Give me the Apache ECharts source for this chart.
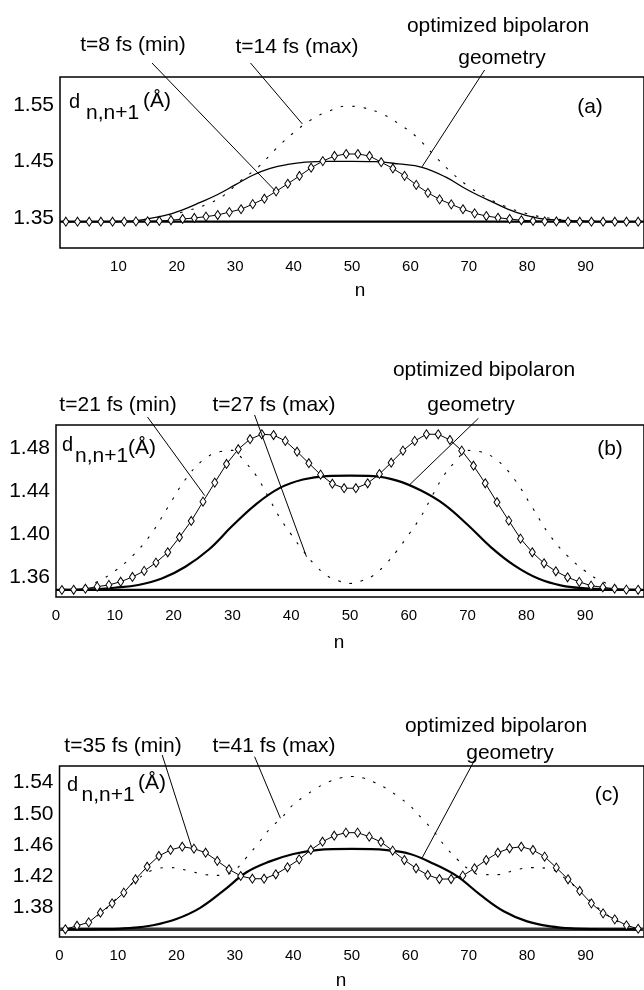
<!DOCTYPE html>
<html><head><meta charset="utf-8">
<script src="https://cdn.jsdelivr.net/npm/echarts@6/dist/echarts.min.js"></script>
<style>html,body{margin:0;padding:0;background:#fff}#c{width:644px;height:990px}</style>
</head><body><div id="c"></div>
<script>
// ---------- data ----------
const nOdd = [1,3,5,7,9,11,13,15,17,19,21,23,25,27,29,31,33,35,37,39,41,43,45,47,49,51,53,55,57,59,61,63,65,67,69,71,73,75,77,79,81,83,85,87,89,91,93,95,97,99];

// panel (a)
const aMin = [1.344,1.344,1.344,1.344,1.344,1.3442,1.3445,1.3448,1.3453,1.3465,1.3488,1.3506,1.353,1.3558,1.361,1.366,1.375,1.3846,1.3976,1.411,1.4247,1.4393,1.451,1.460,1.4635,1.4635,1.460,1.449,1.438,1.425,1.409,1.395,1.3835,1.3747,1.366,1.3588,1.354,1.351,1.3488,1.3465,1.3453,1.3447,1.3444,1.3442,1.344,1.344,1.344,1.344,1.344,1.344];
const aGeoN = [1,8,12,15,18,21,24,27,30,33,36,39,42,46,50,54,58,62,66,70,74,78,82,86,90,95,99];
const aGeo = [1.344,1.3443,1.345,1.349,1.355,1.365,1.378,1.392,1.409,1.426,1.438,1.445,1.449,1.4505,1.4505,1.450,1.446,1.440,1.423,1.399,1.379,1.361,1.350,1.3465,1.345,1.344,1.344];
const aDotN = [1,6,10,14,18,22,25,28,31,34,37,40,43,46,49,52,55,58,61,64,67,70,73,76,80,84,88,92,99];
const aDot = [1.344,1.344,1.345,1.348,1.354,1.364,1.374,1.390,1.417,1.441,1.473,1.501,1.524,1.539,1.548,1.545,1.535,1.517,1.494,1.462,1.431,1.406,1.387,1.372,1.358,1.350,1.346,1.3445,1.344];
const aBase = 1.344;

// panel (b)
const bMin = [1.3484,1.3486,1.3496,1.3515,1.3531,1.3561,1.3605,1.3661,1.3738,1.3834,1.3974,1.4125,1.4304,1.4481,1.4654,1.4791,1.4884,1.493,1.4923,1.4868,1.4768,1.4661,1.4555,1.4471,1.4429,1.4429,1.4475,1.4561,1.4666,1.4778,1.4868,1.493,1.493,1.4877,1.4778,1.4638,1.4475,1.4299,1.4128,1.3961,1.3834,1.3732,1.3658,1.3602,1.3559,1.3524,1.3509,1.3496,1.3487,1.3486];
const bGeoN = [1,6,10,14,18,22,26,30,34,38,42,46,50,54,58,62,66,70,74,78,82,86,90,94,99];
const bGeo = [1.3486,1.349,1.3505,1.353,1.359,1.370,1.386,1.408,1.428,1.443,1.451,1.4542,1.4546,1.4542,1.450,1.441,1.428,1.409,1.388,1.371,1.359,1.3525,1.350,1.349,1.3486];
const bDotN = [1,4,7,10,13,16,19,22,25,28,30,32,34,36,38,40,42,44,46,48,50,52,54,56,58,60,62,64,66,68,70,72,75,78,81,84,87,90,93,96,99];
const bDot = [1.3486,1.351,1.356,1.366,1.380,1.399,1.425,1.451,1.469,1.477,1.478,1.468,1.455,1.436,1.416,1.400,1.385,1.372,1.362,1.357,1.3545,1.357,1.362,1.372,1.385,1.400,1.416,1.436,1.455,1.468,1.478,1.477,1.469,1.451,1.425,1.399,1.380,1.366,1.356,1.351,1.3486];
const bBase = 1.3486;

// panel (c)
const cMin = [1.3518,1.3564,1.3607,1.3731,1.3851,1.3988,1.416,1.4321,1.4459,1.4536,1.4578,1.4553,1.4501,1.4395,1.4288,1.4202,1.4167,1.4167,1.4224,1.4314,1.4416,1.4536,1.4642,1.4719,1.4758,1.4758,1.4707,1.4639,1.4527,1.4407,1.4301,1.4215,1.4163,1.4163,1.4206,1.4301,1.4407,1.4501,1.4558,1.4578,1.4536,1.445,1.4309,1.416,1.401,1.3851,1.3723,1.3646,1.3569,1.3525];
const cGeoN = [1,8,12,16,20,24,28,32,36,40,44,50,56,60,64,68,72,76,80,84,88,92,99];
const cGeo = [1.3517,1.352,1.3533,1.357,1.365,1.379,1.401,1.425,1.439,1.4485,1.4535,1.4549,1.4535,1.4485,1.436,1.420,1.396,1.375,1.362,1.3555,1.3527,1.352,1.3517];
const cDotN = [1,4,7,10,13,16,19,22,25,28,30,32,34,36,38,40,42,44,46,48,50,52,54,56,58,60,62,64,66,68,70,72,75,78,81,84,87,90,93,96,99];
const cDot = [1.352,1.359,1.372,1.393,1.414,1.428,1.431,1.427,1.422,1.421,1.428,1.444,1.462,1.481,1.495,1.512,1.523,1.533,1.541,1.546,1.548,1.546,1.540,1.532,1.522,1.510,1.494,1.478,1.458,1.442,1.429,1.422,1.422,1.428,1.431,1.429,1.414,1.394,1.374,1.360,1.353];
const cBase = 1.3517;

// tick labels
const xTicksA = [10,20,30,40,50,60,70,80,90];
const xTicksBC = [0,10,20,30,40,50,60,70,80,90];
const yTicksA = [1.35,1.45,1.55];
const yTicksB = [1.36,1.40,1.44,1.48];
const yTicksC = [1.38,1.42,1.46,1.50,1.54];
const baseRange = [0,100];

// annotation texts
const panelTags = ['(a)','(b)','(c)'];
const minLabels = ['t=8 fs (min)','t=21 fs (min)','t=35 fs (min)'];
const maxLabels = ['t=14 fs (max)','t=27 fs (max)','t=41 fs (max)'];
const geoLabel1 = 'optimized bipolaron';
const geoLabel2 = 'geometry';
// leader-line ends on the curves, in data coordinates [panel, n, d]
const leaderEnds = [[0,36.8,1.399],[0,41.5,1.5165],[0,62,1.441],
                    [1,25.3,1.436],[1,42.6,1.3793],[1,60.1,1.4459],
                    [2,22.6,1.4574],[2,37.8,1.4943],[2,62,1.4429]];

// ---------- layout ----------
const FONT = '"Liberation Sans", Arial, Helvetica, sans-serif';
const grids = [
  {left:60, top:77, width:585, height:171, show:true, borderColor:'#000', borderWidth:1.5},
  {left:56, top:425, width:598, height:172, show:true, borderColor:'#000', borderWidth:1.5},
  {left:59.5, top:766, width:594, height:171, show:true, borderColor:'#000', borderWidth:1.5}
];
const yRanges = [[1.2976,1.5994],[1.3419,1.5016],[1.3419,1.5614]];
const xTicks = [xTicksA, xTicksBC, xTicksBC];
const yTicks = [yTicksA, yTicksB, yTicksC];

const P = (xs, ys) => xs.map((x,i)=>[x, ys[i]]);
const panelsData = [
  {min:aMin, geoN:aGeoN, geo:aGeo, dotN:aDotN, dot:aDot, base:aBase, geoW:1.3},
  {min:bMin, geoN:bGeoN, geo:bGeo, dotN:bDotN, dot:bDot, base:bBase, geoW:2.2},
  {min:cMin, geoN:cGeoN, geo:cGeo, dotN:cDotN, dot:cDot, base:cBase, geoW:2.2}
];

const xAxes = [], yAxes = [], series = [];
panelsData.forEach((p, i) => {
  xAxes.push({type:'value', gridIndex:i, min:0, max:100,
    axisLine:{show:false}, axisTick:{show:false}, splitLine:{show:false},
    axisLabel:{customValues:xTicks[i], color:'#000', fontSize:15, margin:11, fontFamily:FONT}});
  yAxes.push({type:'value', gridIndex:i, min:yRanges[i][0], max:yRanges[i][1],
    axisLine:{show:false}, axisTick:{show:false}, splitLine:{show:false},
    axisLabel:{customValues:yTicks[i], formatter:v=>v.toFixed(2), color:'#000', fontSize:21, margin:6, fontFamily:FONT}});
  series.push({type:'line', xAxisIndex:i, yAxisIndex:i, data:P(baseRange,[p.base,p.base]),
    symbol:'none', silent:true, z:2,
    lineStyle:{color: i===2 ? '#333' : '#000', width: i===2 ? 3.5 : 2.2}});
  series.push({type:'line', xAxisIndex:i, yAxisIndex:i, data:P(p.dotN,p.dot), smooth:0.4,
    symbol:'none', silent:true, z:3,
    lineStyle:{color:'#000', width:1.1, type:[2.5,9]}});
  series.push({type:'line', xAxisIndex:i, yAxisIndex:i, data:P(p.geoN,p.geo), smooth:0.4,
    symbol:'none', silent:true, z:4,
    lineStyle:{color:'#000', width:p.geoW}});
  series.push({type:'line', xAxisIndex:i, yAxisIndex:i, data:P(nOdd,p.min),
    symbol:'diamond', symbolSize:[6,9], showAllSymbol:true, silent:true, z:5,
    itemStyle:{color:'#fff', borderColor:'#000', borderWidth:1},
    lineStyle:{color:'#000', width:1}});
});

const chart = echarts.init(document.getElementById('c'), null, {renderer:'canvas'});
chart.setOption({animation:false, backgroundColor:'#fff', grid:grids, xAxis:xAxes, yAxis:yAxes, series:series});

// ---------- annotations ----------
const T = (text, x, y, size, align) => ({type:'text', x:x, y:y, silent:true, z:10,
  style:{text:text, fill:'#000', font: size+'px '+FONT, align: align||'center', verticalAlign:'middle'}});
const textPos = [
  {min:[133,45], max:[297,47.5], g1:[498,26], g2:[502,58], tag:[590,107], d:[[69,102],[86,113],[143,101]], n:[360,291]},
  {min:[118,405], max:[274,405], g1:[484,370], g2:[471,405], tag:[610,449], d:[[62,445],[75,456.5],[128,448]], n:[339,643]},
  {min:[123,746.5], max:[274,746.5], g1:[496,726], g2:[510,753], tag:[607,795], d:[[67,785],[81.5,795],[138,783]], n:[341,981]}
];
const leaderStarts = [[152,63],[250.5,63],[484.6,70],[147.5,417],[254.6,415],[478.4,418.3],[162.2,755],[254.6,756.7],[476.4,756.7]];
const g = [];
textPos.forEach((t,i) => {
  g.push(T(minLabels[i], t.min[0], t.min[1], 21));
  g.push(T(maxLabels[i], t.max[0], t.max[1], 21));
  g.push(T(geoLabel1, t.g1[0], t.g1[1], 21));
  g.push(T(geoLabel2, t.g2[0], t.g2[1], 21));
  g.push(T(panelTags[i], t.tag[0], t.tag[1], 21));
  g.push(T('d', t.d[0][0], t.d[0][1], 20, 'left'));
  g.push(T('n,n+1', t.d[1][0], t.d[1][1], 21, 'left'));
  g.push(T('(Å)', t.d[2][0], t.d[2][1], 21, 'left'));
  g.push(T('n', t.n[0], t.n[1], 19));
});
leaderEnds.forEach((e,k) => {
  const p = chart.convertToPixel({gridIndex:e[0]}, [e[1], e[2]]);
  g.push({type:'line', silent:true, z:9,
    shape:{x1:leaderStarts[k][0], y1:leaderStarts[k][1], x2:p[0], y2:p[1]},
    style:{stroke:'#000', lineWidth:1}});
});
chart.setOption({graphic:{elements:g}});
</script></body></html>
